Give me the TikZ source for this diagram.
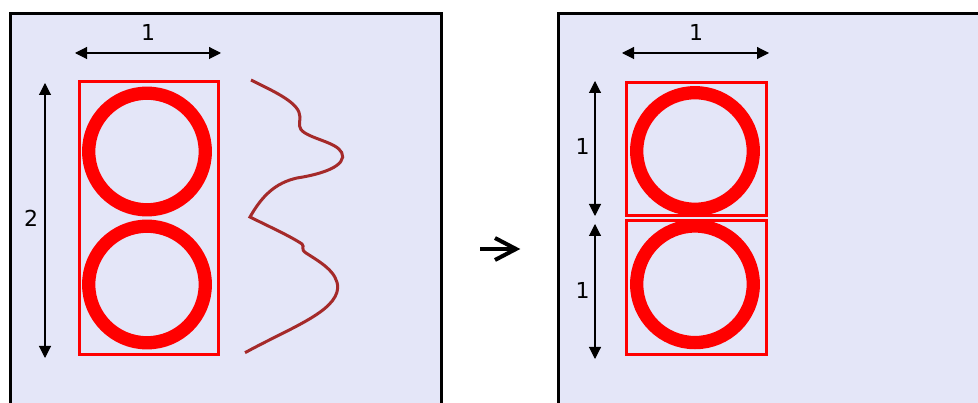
\documentclass[tikz,border=0pt]{standalone}
\usepackage{fontspec}
\setmainfont{DejaVu Sans}
\usetikzlibrary{arrows.meta}
\definecolor{panelfill}{RGB}{228,230,248}
\definecolor{curvebrown}{HTML}{A52A2A}
\tikzset{
  panel/.style={draw=black, line width=3pt, fill=panelfill},
  dimarrow/.style={line width=1.1pt, {Triangle[length=12pt,width=12pt]}-{Triangle[length=12pt,width=12pt]}},
  redbox/.style={draw=red, line width=3pt},
  ring/.style={draw=red, line width=13.3pt},
  lbl/.style={font=\fontsize{22}{26}\selectfont, inner sep=0pt},
  bigarrow/.style={line width=4pt},
}
\begin{document}
\begin{tikzpicture}[x=1pt,y=-1pt]
\useasboundingbox (0,0) rectangle (978,403);
\clip (0,0) rectangle (978,403);
% panels
\draw[panel] (10,14) rectangle (441,420);
\draw[panel] (558,14) rectangle (1000,420);
% left panel
\coordinate (lhA) at (75,53);
\coordinate (lhB) at (221,53);
\draw[dimarrow] (lhA) -- (lhB);
\node[lbl] (l1) at (148,32) {1};
\coordinate (lvA) at (45,83);
\coordinate (lvB) at (45,358);
\draw[dimarrow] (lvA) -- (lvB);
\node[lbl] (l2) at (31,218) {2};
\draw[redbox] (79,82) rectangle (218,355);
\draw[ring] (147,151.5) circle (58.3);
\draw[ring] (147,284.5) circle (58.3);
% brown curve
\draw[curvebrown, line width=3pt]
  (251,80) .. controls (275,92) and (300,103) .. (300,117)
  .. controls (300,124) and (297,128) .. (305,133)
  .. controls (318,141) and (343,144) .. (342.7,157)
  .. controls (341,170) and (310,176) .. (297,178)
  .. controls (275,183) and (262,196) .. (250,217)
  .. controls (270,227) and (290,236) .. (302,244)
  .. controls (305,247) and (300,249) .. (306,253)
  .. controls (320,262) and (338,272) .. (337.7,288)
  .. controls (336,312) and (290,328) .. (245,352.7);
% middle arrow
\coordinate (mA) at (480,249);
\coordinate (mB) at (516,249);
\coordinate (mT) at (495,238);
\coordinate (mD) at (495,260);
\draw[bigarrow] (mA) -- (mB);
\draw[bigarrow, line join=miter] (mT) -- (mB) -- (mD);
% right panel
\coordinate (rhA) at (622,53);
\coordinate (rhB) at (769,53);
\draw[dimarrow] (rhA) -- (rhB);
\node[lbl] (r1) at (696,32) {1};
\coordinate (rvA) at (595,81);
\coordinate (rvB) at (595,216);
\draw[dimarrow] (rvA) -- (rvB);
\coordinate (rvC) at (595,224);
\coordinate (rvD) at (595,359);
\draw[dimarrow] (rvC) -- (rvD);
\node[lbl] (r2) at (582.7,146) {1};
\node[lbl] (r3) at (582.7,290) {1};
\draw[redbox] (626,82.5) rectangle (766,215.5);
\draw[redbox] (626,221) rectangle (766,354.5);
\draw[ring] (695,151) circle (58.3);
\draw[ring] (695,284.3) circle (58.3);
\end{tikzpicture}
\end{document}
